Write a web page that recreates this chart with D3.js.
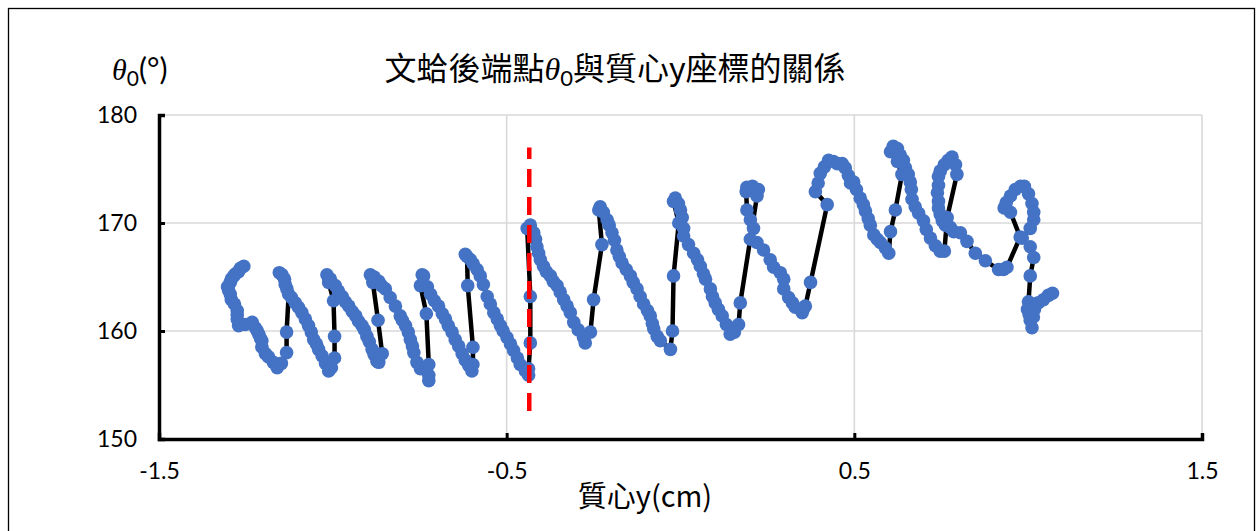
<!DOCTYPE html>
<html><head><meta charset="utf-8">
<script src="https://cdn.jsdelivr.net/npm/d3@7"></script>
<style>body{margin:0;background:#fff}</style>
</head><body><svg id="c" width="1259" height="531"></svg>
<script>
const xTicks = [-1.5, -0.5, 0.5, 1.5];
const xTickLabels = ["-1.5", "-0.5", "0.5", "1.5"];
const yTicks = [150, 160, 170, 180];
const yTickLabels = ["150", "160", "170", "180"];
const refLineX = [-0.435, -0.435];
const refLineY = [152.6, 177.0];
// [centre-of-mass y (cm), theta0 (deg)] in recorded order
const trajectory = [
[-1.256,166.0],[-1.266,165.8],[-1.271,165.5],[-1.280,165.3],[-1.285,165.1],[-1.292,164.8],[-1.295,164.5],[-1.303,164.1],[-1.300,163.8],[-1.295,163.4],[-1.292,162.9],[-1.283,162.5],[-1.275,161.9],[-1.275,161.5],[-1.275,161.1],[-1.271,160.5],[-1.252,160.6],[-1.232,160.8],[-1.223,160.3],[-1.217,160.0],[-1.213,159.7],[-1.208,159.3],[-1.204,159.1],[-1.204,158.5],[-1.194,157.9],[-1.185,157.6],[-1.171,157.1],[-1.160,156.6],
[-1.148,157.0],[-1.133,158.0],[-1.133,159.9],[-1.127,163.4],[-1.137,164.3],[-1.146,165.2],[-1.154,165.4],[-1.139,164.8],[-1.132,163.9],[-1.119,163.1],[-1.108,162.6],[-1.099,162.2],[-1.089,161.7],[-1.079,161.1],[-1.070,160.5],[-1.062,159.9],[-1.055,159.2],[-1.047,158.8],[-1.041,158.3],[-1.031,157.7],[-1.021,157.0],[-1.012,156.3],
[-1.004,156.6],[-0.995,157.5],[-0.995,159.5],[-0.998,162.8],[-1.012,164.5],[-1.017,165.2],[-1.007,164.8],
[-0.993,164.2],[-0.984,163.7],[-0.973,163.2],[-0.964,162.7],[-0.954,162.3],[-0.944,161.8],[-0.934,161.4],[-0.926,160.9],[-0.916,160.5],[-0.909,160.1],[-0.902,159.5],[-0.895,159.0],[-0.887,158.3],[-0.881,157.8],[-0.873,157.2],
[-0.868,157.1],[-0.858,157.9],[-0.870,161.0],[-0.885,164.5],[-0.892,165.2],
[-0.881,165.0],[-0.868,164.6],[-0.860,164.2],[-0.849,163.9],[-0.835,163.1],[-0.820,162.3],[-0.806,161.4],[-0.800,161.0],[-0.791,160.5],[-0.783,159.9],[-0.777,159.2],[-0.771,158.6],[-0.767,158.0],[-0.758,157.1],[-0.748,156.5],
[-0.724,155.4],[-0.724,155.9],[-0.724,156.9],[-0.731,161.6],[-0.748,164.2],[-0.743,165.2],[-0.739,165.1],
[-0.728,164.1],[-0.719,163.4],[-0.708,162.8],[-0.696,162.3],[-0.685,161.6],[-0.676,161.1],[-0.668,160.5],[-0.657,159.9],[-0.648,159.2],[-0.638,158.6],[-0.628,157.9],[-0.619,157.3],[-0.609,156.8],[-0.600,156.3],
[-0.597,156.9],[-0.597,158.5],[-0.612,164.2],[-0.614,166.9],[-0.619,167.1],
[-0.604,166.6],[-0.596,166.2],[-0.585,165.7],[-0.576,165.1],[-0.567,164.3],[-0.556,163.2],[-0.547,162.5],[-0.537,161.7],[-0.527,161.1],[-0.518,160.5],[-0.510,160.0],[-0.499,159.4],[-0.489,158.8],[-0.480,158.2],[-0.469,157.5],[-0.461,156.9],[-0.446,156.3],
[-0.437,155.9],[-0.437,156.5],[-0.432,158.9],[-0.432,163.2],[-0.441,169.5],[-0.432,169.8],
[-0.422,169.1],[-0.417,168.5],[-0.413,167.8],[-0.408,167.2],[-0.403,166.6],[-0.394,166.0],[-0.386,165.5],[-0.374,165.1],[-0.366,164.6],[-0.355,164.2],[-0.346,163.6],[-0.336,162.9],[-0.326,162.3],[-0.317,161.7],[-0.307,160.8],[-0.294,160.1],[-0.279,159.4],[-0.274,158.9],
[-0.259,159.9],[-0.250,162.9],[-0.226,168.0],[-0.235,171.2],[-0.231,171.5],
[-0.222,171.0],[-0.211,170.3],[-0.205,169.8],[-0.197,169.1],[-0.190,168.4],[-0.183,167.5],[-0.176,166.9],[-0.168,166.3],[-0.156,165.7],[-0.144,165.1],[-0.136,164.5],[-0.125,163.9],[-0.116,163.2],[-0.106,162.5],[-0.095,161.9],[-0.087,161.4],[-0.081,160.7],[-0.077,160.2],[-0.067,159.5],[-0.058,159.1],[-0.029,158.3],
[-0.023,160.0],[-0.020,165.1],[-0.005,170.0],[-0.020,172.0],[-0.015,172.3],
[-0.006,171.8],[0.000,171.2],[0.005,170.5],[0.009,169.5],[0.009,168.8],[0.023,168.0],[0.038,167.2],[0.049,166.6],[0.057,166.0],[0.066,165.3],[0.072,164.8],[0.086,163.9],[0.092,163.2],[0.100,162.6],[0.109,162.0],[0.120,161.4],[0.132,160.6],[0.143,159.7],
[0.155,159.9],[0.167,160.6],[0.172,162.6],[0.220,172.5],[0.224,173.1],[0.207,173.4],[0.191,173.3],[0.189,172.9],
[0.191,171.2],[0.201,170.3],[0.210,169.5],[0.201,168.5],[0.220,168.2],[0.239,167.5],[0.258,166.6],[0.268,165.9],[0.287,165.4],[0.297,164.8],[0.297,163.9],[0.311,163.1],[0.322,162.6],[0.330,162.2],[0.350,161.7],[0.353,162.0],
[0.359,162.3],[0.374,164.5],[0.422,171.7],[0.388,172.9],[0.396,173.7],[0.402,174.6],[0.414,175.2],[0.426,175.8],[0.440,175.7],[0.451,175.5],[0.465,175.5],[0.474,175.1],
[0.483,174.4],[0.489,173.7],[0.498,173.8],[0.506,173.1],[0.517,172.3],[0.526,171.7],[0.532,171.1],[0.540,170.4],[0.546,169.8],[0.556,168.9],[0.566,168.5],[0.575,168.2],[0.589,167.7],[0.599,167.2],
[0.604,169.2],[0.618,171.2],[0.637,174.5],[0.624,175.7],[0.604,176.6],[0.612,177.1],[0.624,176.9],
[0.632,176.3],[0.641,175.8],[0.647,175.1],[0.655,174.5],[0.661,173.8],[0.664,173.1],[0.666,172.2],[0.675,171.5],[0.685,170.9],[0.699,170.2],[0.707,169.4],[0.719,168.6],[0.733,167.9],[0.747,167.4],[0.759,167.4],
[0.767,170.5],[0.795,174.5],[0.791,175.4],[0.781,176.1],[0.770,175.8],[0.759,175.4],
[0.747,174.8],[0.742,174.3],[0.742,173.5],[0.739,172.8],[0.742,172.0],[0.742,171.4],[0.747,170.8],[0.753,170.2],[0.762,169.8],[0.776,169.6],[0.786,169.2],[0.805,169.1],[0.824,168.3],[0.848,167.2],[0.877,166.5],[0.915,165.7],[0.929,165.7],[0.939,165.9],
[0.977,168.7],[0.949,171.0],[0.931,171.4],[0.937,171.9],[0.949,172.5],[0.963,173.1],[0.978,173.4],[0.989,173.4],[1.001,172.7],[1.011,171.8],[1.016,171.0],[1.016,170.3],[1.006,169.5],[0.983,168.6],[1.006,167.8],[1.016,166.8],[1.006,165.1],[1.001,162.7],[0.998,162.0],[1.003,161.5],[1.006,161.0],[1.011,160.3],[1.015,161.3],[1.018,162.0],[1.015,162.5],[1.029,162.6],[1.044,162.9],[1.058,163.3],[1.070,163.5]
];

const svg = d3.select("#c");
const x = d3.scaleLinear().domain([-1.5, 1.5]).range([159, 1202]);
const y = d3.scaleLinear().domain([150, 180]).range([439, 115]);

// outer frame
svg.append("rect").attr("x", 8.5).attr("y", 8.5).attr("width", 1246).attr("height", 540)
  .attr("fill", "#fff").attr("stroke", "#000").attr("stroke-width", 1.3);

// gridlines
svg.append("g").selectAll("line").data(yTicks.slice(1)).join("line")
  .attr("x1", x(-1.5)).attr("x2", x(1.5)).attr("y1", d => y(d)).attr("y2", d => y(d))
  .attr("stroke", "#d9d9d9").attr("stroke-width", 1.6);
svg.append("g").selectAll("line").data(xTicks.slice(1)).join("line")
  .attr("y1", y(150)).attr("y2", y(180)).attr("x1", d => x(d)).attr("x2", d => x(d))
  .attr("stroke", "#d9d9d9").attr("stroke-width", 1.6);

const tickFont = "Lato, 'Open Sans', sans-serif";
const xAxis = svg.append("g").attr("transform", `translate(0,${y(150)})`)
  .call(d3.axisBottom(x).tickValues(xTicks).tickSize(-6).tickPadding(24)
    .tickFormat((d, i) => xTickLabels[i]));
const yAxis = svg.append("g").attr("transform", `translate(${x(-1.5)},0)`)
  .call(d3.axisLeft(y).tickValues(yTicks).tickSize(-6).tickPadding(22)
    .tickFormat((d, i) => yTickLabels[i]));
[xAxis, yAxis].forEach(g => {
  g.select(".domain").attr("stroke", "#000").attr("stroke-width", 3.5);
  g.selectAll(".tick line").attr("stroke", "#000").attr("stroke-width", 3);
  g.selectAll(".tick text").attr("fill", "#000").style("font-family", tickFont).style("font-size", "23px");
});

// connecting line
const line = d3.line().x(d => x(d[0])).y(d => y(d[1]));
svg.append("path").datum(trajectory).attr("d", line)
  .attr("fill", "none").attr("stroke", "#000").attr("stroke-width", 4.5).attr("stroke-linejoin", "round");

// markers
svg.append("g").selectAll("circle").data(trajectory).join("circle")
  .attr("cx", d => x(d[0])).attr("cy", d => y(d[1])).attr("r", 6.8).attr("fill", "#4472C4");

// reference dashed line
svg.append("line")
  .attr("x1", x(refLineX[0])).attr("x2", x(refLineX[1]))
  .attr("y1", y(refLineY[0])).attr("y2", y(refLineY[1]))
  .attr("stroke", "#FF0000").attr("stroke-width", 4.5).attr("stroke-dasharray", "18,10");

// title
const cjk = "'Noto Sans CJK TC', 'Noto Sans CJK SC', sans-serif";
const title = svg.append("text").attr("x", 615).attr("y", 80).attr("text-anchor", "middle")
  .style("font-family", cjk).style("font-size", "32px").attr("fill", "#000");
title.append("tspan").text("文蛤後端點");
title.append("tspan").text("θ").style("font-style", "italic").style("font-family", "'Liberation Serif', serif");
title.append("tspan").text("0").attr("dy", 6).style("font-size", "22px").style("font-family", tickFont);
title.append("tspan").text("與質心y座標的關係").attr("dy", -6);

// y-axis label
const yl = svg.append("text").attr("x", 112).attr("y", 80)
  .style("font-family", tickFont).style("font-size", "30px").attr("fill", "#000");
yl.append("tspan").text("θ").style("font-style", "italic").style("font-family", "'Liberation Serif', serif");
yl.append("tspan").text("0").attr("dy", 6).style("font-size", "21px");
yl.append("tspan").text("(°)").attr("dy", -6);

// x-axis label
svg.append("text").attr("x", 645).attr("y", 507).attr("text-anchor", "middle")
  .style("font-family", cjk).style("font-size", "29px").attr("fill", "#000")
  .text("質心y(cm)");
</script>
</body></html>
